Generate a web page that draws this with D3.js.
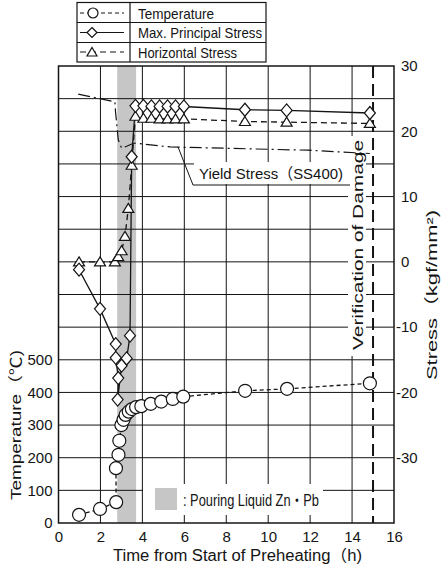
<!DOCTYPE html>
<html>
<head>
<meta charset="utf-8">
<script src="https://cdn.jsdelivr.net/npm/d3@7"></script>
<style>
  html, body { margin: 0; padding: 0; background: #fff; }
  svg { display: block; }
  text { font-family: "Liberation Sans", Arial, "Noto Sans CJK JP", sans-serif; fill: #141414; }
</style>
</head>
<body>
<svg id="chart" width="442" height="569"></svg>
<script>
// ---- tick labels ----
const timeTicks   = [0, 2, 4, 6, 8, 10, 12, 14, 16];
const tempTicks   = [0, 100, 200, 300, 400, 500];
const stressTicks = [30, 20, 10, 0, -10, -20, -30];

// ---- series (time in h) ----
const tempHours  = [0.98, 1.98, 2.75, 2.74, 2.86, 2.9, 3.0, 3.1, 3.2, 3.35, 3.5, 3.7, 3.95, 4.4, 4.9, 5.45, 5.95, 8.9, 10.9, 14.85];
const tempValues = [25, 43, 64, 168, 209, 252, 300, 316, 331, 341, 349, 355, 358, 365, 372, 380, 387, 405, 411, 428];

const principalHours  = [0.98, 1.98, 2.73, 2.73, 2.85, 2.82, 3.01, 3.25, 3.41, 3.49, 3.67, 4.05, 4.43, 4.82, 5.2, 5.58, 5.98, 8.89, 10.88, 14.85];
const principalValues = [-1.2, -7.2, -12.6, -14.7, -17.8, -21.1, -15.9, -14.8, -11.3, 16.1, 23.9, 23.9, 23.8, 23.8, 23.8, 23.8, 23.8, 23.3, 23.2, 22.8];

const horizHours  = [0.98, 1.98, 2.69, 2.85, 3.01, 3.17, 3.33, 3.49, 3.67, 4.05, 4.43, 4.82, 5.2, 5.58, 5.98, 8.89, 10.88, 14.85];
const horizValues = [0, 0, 0, 0.8, 1.7, 3.9, 8.2, 14.8, 22.3, 22.0, 22.0, 21.9, 21.9, 21.9, 21.9, 21.5, 21.4, 21.2];

const yieldHours  = [0.94, 2.69, 2.72, 2.85, 3.01, 3.25, 3.6, 5.32, 11.9, 14.85];
const yieldValues = [25.7, 24.5, 23.0, 18.7, 17.4, 17.7, 18.2, 17.6, 17.1, 16.6];

const pourWindow = [2.8, 3.7];     // h, pouring of liquid Zn·Pb
const verificationHour = 15;
const yieldAnchor = [5.7, 17.6];   // point on the yield curve the callout refers to

const legendLabels = ["Temperature", "Max. Principal Stress", "Horizontal Stress"];

// ---- layout ----
const svg = d3.select("#chart");
const x  = d3.scaleLinear().domain([0, 16]).range([58.5, 394]);
const yS = d3.scaleLinear().domain([-40, 30]).range([523, 66]);
const yT = d3.scaleLinear().domain([0, 1400]).range([523, 66]);   // 0 °C sits at -40 kgf/mm²
const ink = "#141414";

// pouring band
svg.append("rect")
  .attr("x", x(pourWindow[0])).attr("y", yS(30))
  .attr("width", x(pourWindow[1]) - x(pourWindow[0])).attr("height", yS(-40) - yS(30))
  .attr("fill", "#c6c6c6");

// grid
const grid = svg.append("g").attr("stroke", ink).attr("stroke-width", 1);
grid.selectAll("line.h").data(d3.range(-35, 30, 5)).join("line")
  .attr("x1", x(0)).attr("x2", x(16)).attr("y1", d => yS(d)).attr("y2", d => yS(d));
grid.selectAll("line.v").data(timeTicks.slice(1, -1)).join("line")
  .attr("x1", d => x(d)).attr("x2", d => x(d)).attr("y1", yS(30)).attr("y2", yS(-40));

// frame
svg.append("rect")
  .attr("x", x(0)).attr("y", yS(30)).attr("width", x(16) - x(0)).attr("height", yS(-40) - yS(30))
  .attr("fill", "none").attr("stroke", ink).attr("stroke-width", 1.5);

// axes
function styleAxis(g) {
  g.select(".domain").remove();
  g.selectAll("line").remove();
  g.selectAll("text").attr("font-size", 15).attr("fill", ink)
    .attr("font-family", '"Liberation Sans", Arial, sans-serif');
}
svg.append("g").attr("transform", `translate(0,${yS(-40)})`)
  .call(d3.axisBottom(x).tickValues(timeTicks).tickSize(0).tickPadding(8).tickFormat(d3.format("d")))
  .call(styleAxis);
svg.append("g").attr("transform", `translate(${x(0)},0)`)
  .call(d3.axisLeft(yT).tickValues(tempTicks).tickSize(0).tickPadding(6).tickFormat(d3.format("d")))
  .call(styleAxis);
svg.append("g").attr("transform", `translate(${x(16)},0)`)
  .call(d3.axisRight(yS).tickValues(stressTicks).tickSize(0).tickPadding(7)
        .tickFormat(d => d < 0 ? "-" + Math.abs(d) : String(d)))
  .call(styleAxis)
  .call(g => g.selectAll(".tick text").attr("dx", d => d < 0 ? -5 : 0));

// axis titles
svg.append("text").attr("x", 237.5).attr("y", 561).attr("text-anchor", "middle")
  .attr("font-size", 16).attr("textLength", 249).attr("lengthAdjust", "spacingAndGlyphs")
  .text("Time from Start of Preheating（h)");
svg.append("text").attr("transform", "translate(15,425) rotate(-90)")
  .attr("text-anchor", "middle").attr("dominant-baseline", "central")
  .attr("font-size", 15).attr("textLength", 150).attr("lengthAdjust", "spacingAndGlyphs")
  .text("Temperature（℃)");
svg.append("text").attr("transform", "translate(431,295) rotate(-90)")
  .attr("text-anchor", "middle").attr("dominant-baseline", "central")
  .attr("font-size", 15).attr("textLength", 170).attr("lengthAdjust", "spacingAndGlyphs")
  .text("Stress（kgf/mm²)");

// verification of damage
svg.append("rect").attr("x", 348).attr("y", 136).attr("width", 18).attr("height", 220).attr("fill", "#fff");
svg.append("text").attr("transform", "translate(357.5,245) rotate(-90)")
  .attr("text-anchor", "middle").attr("dominant-baseline", "central")
  .attr("font-size", 15).attr("textLength", 210).attr("lengthAdjust", "spacingAndGlyphs")
  .text("Verification of Damage");
svg.append("line")
  .attr("x1", x(verificationHour)).attr("x2", x(verificationHour))
  .attr("y1", yS(30)).attr("y2", yS(-40))
  .attr("stroke", ink).attr("stroke-width", 2).attr("stroke-dasharray", "12,6");

// yield stress callout
svg.append("rect").attr("x", 194).attr("y", 162).attr("width", 155).attr("height", 22).attr("fill", "#fff");
svg.append("text").attr("x", 199).attr("y", 179)
  .attr("font-size", 15.5).attr("textLength", 144).attr("lengthAdjust", "spacingAndGlyphs")
  .text("Yield Stress（SS400)");
svg.append("path")
  .attr("d", `M${x(yieldAnchor[0])},${yS(yieldAnchor[1])} L193,185 L350,185`)
  .attr("fill", "none").attr("stroke", ink).attr("stroke-width", 1);

// pouring key
svg.append("rect").attr("x", 143).attr("y", 484).attr("width", 180).attr("height", 31).attr("fill", "#fff");
svg.append("rect").attr("x", 155).attr("y", 488).attr("width", 22).attr("height", 22).attr("fill", "#c6c6c6");
svg.append("text").attr("x", 183).attr("y", 506)
  .attr("font-size", 16).attr("textLength", 136).attr("lengthAdjust", "spacingAndGlyphs")
  .text(": Pouring Liquid Zn・Pb");

// series lines
const lineS = d3.line().x(d => x(d[0])).y(d => yS(d[1]));
const lineT = d3.line().x(d => x(d[0])).y(d => yT(d[1]));
const zip = (a, b) => a.map((h, i) => [h, b[i]]);

const tempPts = zip(tempHours, tempValues);
const principalPts = zip(principalHours, principalValues);
const horizPts = zip(horizHours, horizValues);
const yieldPts = zip(yieldHours, yieldValues);

svg.append("path").attr("d", lineS(yieldPts)).attr("fill", "none")
  .attr("stroke", ink).attr("stroke-width", 1.2).attr("stroke-dasharray", "12,4,2,4");
svg.append("path").attr("d", lineS(horizPts)).attr("fill", "none")
  .attr("stroke", ink).attr("stroke-width", 1.3).attr("stroke-dasharray", "6,4");
svg.append("path").attr("d", lineS(principalPts)).attr("fill", "none")
  .attr("stroke", ink).attr("stroke-width", 1.3);
svg.append("path").attr("d", lineT(tempPts)).attr("fill", "none")
  .attr("stroke", ink).attr("stroke-width", 1.3).attr("stroke-dasharray", "4,3");

// markers
const diamond = "M0,-6.5L5.5,0L0,6.5L-5.5,0Z";
const triangle = "M0,-5L5.5,4L-5.5,4Z";
const mk = { fill: "#fff", stroke: ink, "stroke-width": 1.2 };
function styleMk(sel) { Object.entries(mk).forEach(([k, v]) => sel.attr(k, v)); return sel; }

styleMk(svg.append("g").selectAll("path").data(horizPts).join("path")
  .attr("d", triangle).attr("transform", d => `translate(${x(d[0])},${yS(d[1])})`));
styleMk(svg.append("g").selectAll("path").data(principalPts).join("path")
  .attr("d", diamond).attr("transform", d => `translate(${x(d[0])},${yS(d[1])})`));
styleMk(svg.append("g").selectAll("circle").data(tempPts).join("circle")
  .attr("cx", d => x(d[0])).attr("cy", d => yT(d[1])).attr("r", 6.5));

// legend
const lg = svg.append("g");
lg.append("rect").attr("x", 77).attr("y", 2.5).attr("width", 189).attr("height", 59.5)
  .attr("fill", "#fff").attr("stroke", ink).attr("stroke-width", 1.2);
lg.append("line").attr("x1", 130).attr("x2", 130).attr("y1", 2.5).attr("y2", 62)
  .attr("stroke", ink).attr("stroke-width", 1.2);
[22.5, 42.5].forEach(yy => lg.append("line").attr("x1", 77).attr("x2", 266)
  .attr("y1", yy).attr("y2", yy).attr("stroke", ink).attr("stroke-width", 1.2));
const dashes = ["4,3", null, "6,4"];
const legendWidths = [76, 124, 99];
legendLabels.forEach((label, i) => {
  const cy = 13 + i * 19.5;
  const ln = lg.append("line").attr("x1", 80).attr("x2", 124).attr("y1", cy).attr("y2", cy)
    .attr("stroke", ink).attr("stroke-width", 1.2);
  if (dashes[i]) ln.attr("stroke-dasharray", dashes[i]);
  if (i === 0) styleMk(lg.append("circle").attr("cx", 93).attr("cy", cy).attr("r", 5));
  if (i === 1) styleMk(lg.append("path").attr("d", "M0,-5L5,0L0,5L-5,0Z").attr("transform", `translate(92,${cy})`));
  if (i === 2) styleMk(lg.append("path").attr("d", "M0,-4.5L5,4L-5,4Z").attr("transform", `translate(92,${cy})`));
  lg.append("text").attr("x", 138).attr("y", cy + 5.5).attr("font-size", 14.5)
    .attr("textLength", legendWidths[i]).attr("lengthAdjust", "spacingAndGlyphs").text(label);
});
</script>
</body>
</html>
